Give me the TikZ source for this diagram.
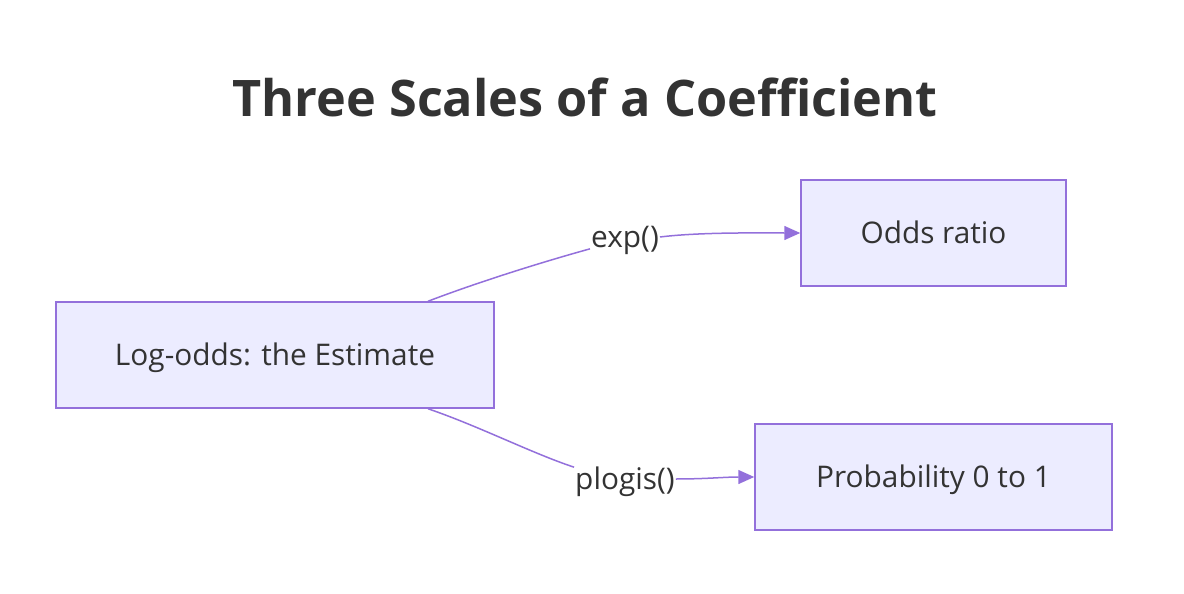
\documentclass[tikz,border=0pt]{standalone}
\usepackage{fontspec}
\setmainfont{Open Sans}
\usetikzlibrary{arrows.meta,positioning}
\definecolor{boxfill}{HTML}{ECECFF}
\definecolor{boxline}{HTML}{9370DB}
\definecolor{ink}{HTML}{333333}
\tikzset{
  scalebox/.style={rectangle,draw=boxline,fill=boxfill,line width=1.5pt,text=ink,
    minimum height=106pt,inner sep=0pt,text height=21.3pt,text depth=0pt,
    font=\fontsize{29.8}{34}\selectfont},
  edgelabel/.style={inner sep=1pt,text=ink,text height=21.3pt,text depth=0pt,
    font=\fontsize{29.8}{34}\selectfont},
  edge/.style={draw=boxline,line width=1.5pt},
  tip/.style={-{Triangle[length=16pt,width=14pt]}}
}
\begin{document}
\begin{tikzpicture}[x=1pt,y=-1pt]
  \useasboundingbox (0,0) rectangle (1184,594);
  \node[text=ink,font=\bfseries\fontsize{50.4}{56}\selectfont] (title) at (585,97) {Three Scales of a Coefficient};
  \node[scalebox,minimum width=438pt] (log) at (275,355) {Log-odds: the Estimate};
  \node[scalebox,minimum width=265pt] (odds) at (933.5,233) {Odds ratio};
  \node[scalebox,minimum width=357pt] (prob) at (933.5,477) {Probability 0 to 1};
  \node[edgelabel] (lexp) at (625,237) {exp()};
  \node[edgelabel] (lplogis) at (625,479) {plogis()};
  % log-odds to odds ratio
  \draw[edge] ([xshift=153pt]log.north) .. controls +(55,-21) and +(-40,11) .. (lexp.south west);
  \draw[edge,tip] (lexp.east) .. controls +(40,-5) and +(-40,0) .. (odds.west);
  % log-odds to probability
  \draw[edge] ([xshift=153pt]log.south) .. controls +(50,17) and +(-40,-13) .. (lplogis.north west);
  \draw[edge,tip] (lplogis.east) .. controls +(30,0) and +(-30,0) .. (prob.west);
\end{tikzpicture}
\end{document}
